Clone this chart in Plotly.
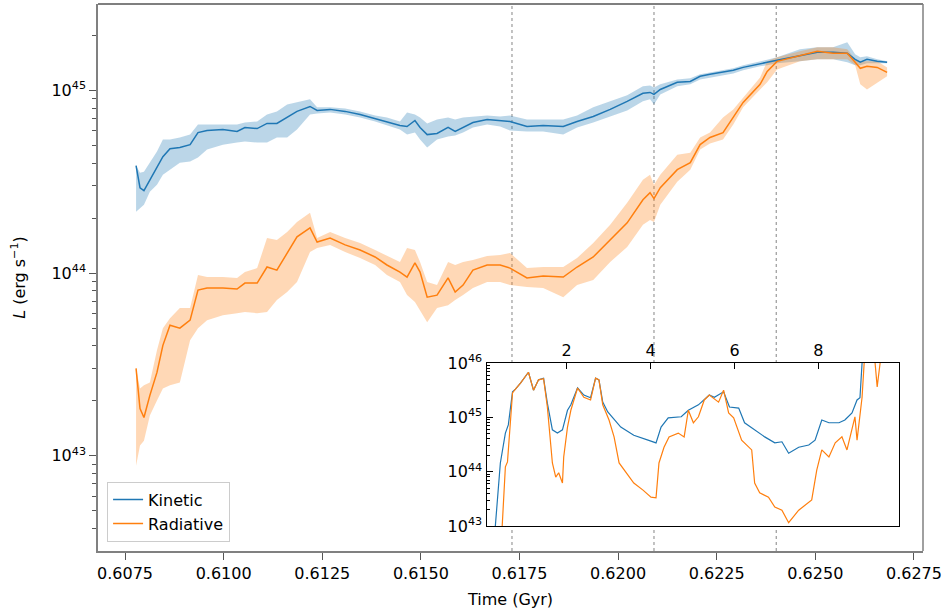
import numpy as np
import plotly.graph_objects as go

# ---------------- main panel data (time in Gyr, log10 L in erg/s) ----------------
time_gyr = [0.60778, 0.60788, 0.60798, 0.60813, 0.60831, 0.60846, 0.60864, 0.60889, 0.60915, 0.60935,
            0.60958, 0.60998, 0.61034, 0.61054, 0.61085, 0.61110, 0.61135, 0.61161, 0.61186, 0.61219,
            0.61237, 0.61270, 0.61308, 0.61346, 0.61384, 0.61414, 0.61447, 0.61465, 0.61485, 0.61498,
            0.61516, 0.61541, 0.61569, 0.61587, 0.61607, 0.61632, 0.61668, 0.61701, 0.61726, 0.61769,
            0.61810, 0.61861, 0.61896, 0.61937, 0.61980, 0.62023, 0.62063, 0.62081, 0.62091, 0.62107,
            0.62150, 0.62183, 0.62208, 0.62233, 0.62266, 0.62292, 0.62317, 0.62360, 0.62378, 0.62403,
            0.62461, 0.62505, 0.62545, 0.62581, 0.62601, 0.62614, 0.62631, 0.62657, 0.62682]

kinetic_log = [44.588, 44.467, 44.451, 44.511, 44.577, 44.637, 44.681, 44.687, 44.703, 44.769,
               44.780, 44.786, 44.775, 44.797, 44.791, 44.819, 44.819, 44.852, 44.885, 44.912,
               44.890, 44.896, 44.885, 44.868, 44.846, 44.830, 44.808, 44.802, 44.835, 44.797,
               44.758, 44.764, 44.797, 44.775, 44.797, 44.824, 44.841, 44.835, 44.830, 44.802,
               44.808, 44.802, 44.830, 44.857, 44.896, 44.940, 44.984, 44.989, 44.978, 45.005,
               45.044, 45.049, 45.077, 45.088, 45.099, 45.110, 45.126, 45.148, 45.154, 45.165,
               45.192, 45.209, 45.209, 45.203, 45.170, 45.154, 45.170, 45.159, 45.154]
kinetic_hi_log = [44.588, 44.549, 44.555, 44.604, 44.665, 44.731, 44.731, 44.742, 44.758, 44.813,
                  44.813, 44.813, 44.813, 44.824, 44.830, 44.868, 44.885, 44.923, 44.934, 44.951,
                  44.907, 44.907, 44.901, 44.885, 44.863, 44.852, 44.830, 44.879, 44.868, 44.852,
                  44.819, 44.841, 44.852, 44.841, 44.852, 44.857, 44.863, 44.857, 44.863, 44.841,
                  44.841, 44.841, 44.863, 44.907, 44.940, 44.973, 45.022, 45.027, 45.016, 45.033,
                  45.060, 45.066, 45.088, 45.099, 45.110, 45.121, 45.137, 45.159, 45.165, 45.181,
                  45.225, 45.236, 45.236, 45.264, 45.198, 45.181, 45.187, 45.170, 45.159]
kinetic_lo_log = [44.335, 44.357, 44.374, 44.445, 44.484, 44.538, 44.566, 44.604, 44.610, 44.632,
                  44.676, 44.703, 44.714, 44.720, 44.714, 44.714, 44.742, 44.742, 44.786, 44.868,
                  44.874, 44.879, 44.868, 44.852, 44.830, 44.808, 44.786, 44.758, 44.769, 44.731,
                  44.687, 44.731, 44.747, 44.753, 44.769, 44.797, 44.813, 44.802, 44.780, 44.775,
                  44.775, 44.758, 44.797, 44.824, 44.857, 44.890, 44.940, 44.951, 44.923, 44.978,
                  45.022, 45.033, 45.060, 45.071, 45.082, 45.093, 45.110, 45.132, 45.137, 45.148,
                  45.159, 45.170, 45.170, 45.154, 45.137, 45.137, 45.148, 45.148, 45.148]

radiative_log = [43.478, 43.258, 43.209, 43.330, 43.456, 43.604, 43.714, 43.698, 43.742, 43.907,
                 43.918, 43.918, 43.912, 43.945, 43.945, 44.033, 44.016, 44.110, 44.198, 44.247,
                 44.170, 44.192, 44.154, 44.126, 44.088, 44.044, 44.005, 43.978, 44.055, 44.005,
                 43.868, 43.879, 43.973, 43.896, 43.934, 44.016, 44.044, 44.044, 44.027, 43.973,
                 43.984, 43.978, 44.033, 44.088, 44.181, 44.275, 44.401, 44.440, 44.407, 44.467,
                 44.566, 44.604, 44.703, 44.742, 44.769, 44.852, 44.934, 45.033, 45.104, 45.159,
                 45.192, 45.214, 45.203, 45.203, 45.154, 45.121, 45.132, 45.126, 45.099]
radiative_hi_log = [43.478, 43.368, 43.385, 43.401, 43.577, 43.698, 43.753, 43.808, 43.808, 43.989,
                    43.978, 43.978, 43.973, 44.005, 44.027, 44.192, 44.181, 44.225, 44.280, 44.330,
                    44.192, 44.225, 44.192, 44.165, 44.126, 44.093, 44.060, 44.137, 44.126, 44.060,
                    43.951, 43.934, 44.060, 44.044, 44.060, 44.071, 44.093, 44.099, 44.110, 44.027,
                    44.033, 44.033, 44.082, 44.165, 44.264, 44.385, 44.511, 44.538, 44.484, 44.538,
                    44.648, 44.659, 44.742, 44.769, 44.852, 44.896, 44.962, 45.071, 45.159, 45.181,
                    45.214, 45.236, 45.236, 45.225, 45.170, 45.159, 45.159, 45.159, 45.126]
radiative_lo_log = [42.945, 43.055, 43.082, 43.220, 43.302, 43.368, 43.385, 43.401, 43.632, 43.698,
                    43.742, 43.769, 43.780, 43.786, 43.780, 43.786, 43.852, 43.896, 43.951, 44.115,
                    44.137, 44.154, 44.115, 44.082, 44.044, 43.989, 43.951, 43.879, 43.841, 43.797,
                    43.731, 43.808, 43.824, 43.852, 43.879, 43.918, 43.951, 43.951, 43.934, 43.923,
                    43.918, 43.868, 43.934, 43.962, 44.060, 44.143, 44.264, 44.291, 44.280, 44.374,
                    44.500, 44.566, 44.676, 44.709, 44.731, 44.813, 44.907, 45.005, 45.044, 45.115,
                    45.159, 45.170, 45.170, 45.170, 45.137, 45.033, 45.005, 45.044, 45.077]

marker_times = [0.61731, 0.62091, 0.62401]

# ---------------- inset data ----------------
inset_kin_x = [0.28, 0.42, 0.54, 0.61, 0.71, 0.78, 0.90, 1.09, 1.21, 1.33, 1.45, 1.54, 1.66, 1.78, 1.90,
               2.02, 2.10, 2.26, 2.41, 2.57, 2.69, 2.77, 2.86, 2.98, 3.29, 3.60, 3.94, 4.13, 4.25, 4.42,
               4.73, 4.90, 5.14, 5.40, 5.52, 5.74, 5.88, 6.10, 6.24, 6.48, 6.72, 6.96, 7.13, 7.29, 7.53,
               7.77, 7.92, 8.08, 8.25, 8.49, 8.63, 8.80, 8.92, 8.99, 9.04, 9.16, 9.35, 9.52]
inset_kin_log = [42.8, 44.16, 44.71, 44.86, 45.47, 45.52, 45.63, 45.83, 45.50, 45.69, 45.72, 45.26, 44.77,
                 44.71, 44.77, 45.13, 45.23, 45.54, 45.41, 45.36, 45.72, 45.69, 45.28, 45.10, 44.82, 44.67,
                 44.58, 44.53, 44.82, 44.99, 45.01, 45.13, 45.23, 45.41, 45.37, 45.47, 45.19, 45.17, 44.90,
                 44.77, 44.64, 44.53, 44.55, 44.34, 44.45, 44.49, 44.58, 44.95, 44.90, 44.90, 44.95, 45.08,
                 45.32, 45.36, 46.0, 46.3, 46.2, 46.3]
inset_rad_x = [0.45, 0.54, 0.59, 0.71, 0.78, 0.90, 1.09, 1.21, 1.33, 1.45, 1.54, 1.66, 1.74, 1.81, 1.90,
               1.93, 2.02, 2.10, 2.26, 2.41, 2.57, 2.69, 2.77, 2.86, 3.01, 3.13, 3.25, 3.41, 3.60, 3.82,
               4.01, 4.13, 4.20, 4.32, 4.44, 4.66, 4.80, 4.90, 5.02, 5.14, 5.28, 5.40, 5.62, 5.74, 5.86,
               5.98, 6.17, 6.41, 6.48, 6.60, 6.81, 6.96, 7.13, 7.29, 7.53, 7.84, 7.96, 8.08, 8.25, 8.40,
               8.56, 8.68, 8.80, 8.87, 8.92, 9.04, 9.09, 9.23, 9.35, 9.40, 9.47, 9.57]
inset_rad_log = [42.8, 44.09, 44.18, 45.45, 45.52, 45.63, 45.83, 45.50, 45.69, 45.71, 45.19, 44.16, 43.90,
                 43.98, 43.79, 44.27, 44.82, 45.13, 45.54, 45.37, 45.32, 45.72, 45.69, 45.23, 44.95, 44.64,
                 44.16, 43.98, 43.79, 43.66, 43.53, 43.52, 44.16, 44.45, 44.64, 44.71, 44.64, 45.13, 44.90,
                 45.01, 45.32, 45.41, 45.28, 45.50, 45.08, 44.99, 44.58, 44.40, 43.79, 43.61, 43.53, 43.35,
                 43.29, 43.06, 43.29, 43.48, 44.03, 44.40, 44.27, 44.53, 44.64, 44.40, 44.82, 45.01, 44.58,
                 45.37, 46.0, 46.3, 46.0, 45.56, 46.0, 46.3]
inset_marker_x = 0.62

x_ticks = [0.6075, 0.6100, 0.6125, 0.6150, 0.6175, 0.6200, 0.6225, 0.6250, 0.6275]
inset_x_ticks = [2, 4, 6, 8]

BLUE = "#1f77b4"
ORANGE = "#ff7f0e"
FONT = "DejaVu Sans"


def L(a):
    return 10 ** np.array(a)


fig = go.Figure()

# bands
fig.add_trace(go.Scatter(x=time_gyr, y=L(kinetic_lo_log), mode="lines", line=dict(width=0),
                         showlegend=False, hoverinfo="skip"))
fig.add_trace(go.Scatter(x=time_gyr, y=L(kinetic_hi_log), mode="lines", line=dict(width=0),
                         fill="tonexty", fillcolor="rgba(31,119,180,0.3)", showlegend=False, hoverinfo="skip"))
fig.add_trace(go.Scatter(x=time_gyr, y=L(radiative_lo_log), mode="lines", line=dict(width=0),
                         showlegend=False, hoverinfo="skip"))
fig.add_trace(go.Scatter(x=time_gyr, y=L(radiative_hi_log), mode="lines", line=dict(width=0),
                         fill="tonexty", fillcolor="rgba(255,127,14,0.3)", showlegend=False, hoverinfo="skip"))
# median lines
fig.add_trace(go.Scatter(x=time_gyr, y=L(kinetic_log), mode="lines", name="Kinetic",
                         line=dict(color=BLUE, width=1.5)))
fig.add_trace(go.Scatter(x=time_gyr, y=L(radiative_log), mode="lines", name="Radiative",
                         line=dict(color=ORANGE, width=1.5)))

# inset
fig.add_trace(go.Scatter(x=inset_kin_x, y=L(inset_kin_log), mode="lines", xaxis="x2", yaxis="y2",
                         line=dict(color=BLUE, width=1.2), showlegend=False))
fig.add_trace(go.Scatter(x=inset_rad_x, y=L(inset_rad_log), mode="lines", xaxis="x2", yaxis="y2",
                         line=dict(color=ORANGE, width=1.2), showlegend=False))

W, H = 947, 611
ml, mr, mt, mb = 98, 24, 4, 60
pw, ph = W - ml - mr, H - mt - mb
ix0 = (486.5 - ml) / pw
ix1 = (899 - ml) / pw
iy0 = (H - mb - 526) / ph
iy1 = (H - mb - 363) / ph

shapes = []
for t in marker_times:
    for (a, b) in [(0, iy0), (iy1, 1)]:
        shapes.append(dict(type="line", xref="x", yref="paper", x0=t, x1=t, y0=a, y1=b,
                           line=dict(color="#9a9a9a", width=1.2, dash="dot"), layer="below"))
shapes.append(dict(type="line", xref="x2", yref="y2 domain", x0=inset_marker_x, x1=inset_marker_x,
                   y0=0, y1=1, line=dict(color="#d8d8d8", width=2), layer="below"))
# top (black) and right (gray) spines
shapes.append(dict(type="line", xref="paper", yref="paper", x0=0, x1=1, y0=1, y1=1,
                   line=dict(color="black", width=1.2)))
shapes.append(dict(type="line", xref="paper", yref="paper", x0=1, x1=1, y0=0, y1=1,
                   line=dict(color="#808080", width=1.5)))

main_minor = [k * 10.0 ** n for n in range(42, 46) for k in range(2, 10)]
main_minor = [v for v in main_minor if 10 ** 42.478 < v < 10 ** 45.473]
inset_minor = [k * 10.0 ** n for n in range(43, 46) for k in range(2, 10)]

fig.update_layout(
    width=W, height=H,
    margin=dict(l=ml, r=mr, t=mt, b=mb, autoexpand=False),
    paper_bgcolor="white", plot_bgcolor="white",
    font=dict(family=FONT, size=16, color="black"),
    shapes=shapes,
    showlegend=True,
    legend=dict(x=0.011, y=0.017, xanchor="left", yanchor="bottom", traceorder="normal",
                bgcolor="rgba(255,255,255,0.8)", bordercolor="#cccccc", borderwidth=1,
                font=dict(family=FONT, size=16), tracegroupgap=0),
    xaxis=dict(domain=[0, 1], range=[0.606815, 0.62773], showgrid=False, zeroline=False,
               automargin=False,
               showline=True, linecolor="#808080", linewidth=1.5,
               ticks="outside", ticklen=7, tickwidth=1.2, tickcolor="#555555",
               tickmode="array", tickvals=x_ticks, ticktext=[f"{v:.4f}" for v in x_ticks],
               tickfont=dict(size=16),
               title=dict(text="Time (Gyr)", font=dict(size=16), standoff=12)),
    yaxis=dict(type="log", range=[42.478, 45.473], showgrid=False, zeroline=False,
               automargin=False,
               showline=True, linecolor="#808080", linewidth=1.5,
               ticks="outside", ticklen=7, tickwidth=1.2, tickcolor="#555555",
               tickmode="array", tickvals=[1e43, 1e44, 1e45],
               ticktext=["10<sup>43</sup>", "10<sup>44</sup>", "10<sup>45</sup>"],
               tickfont=dict(size=16),
               minor=dict(tickmode="array", tickvals=main_minor, ticks="outside", ticklen=4,
                          tickwidth=1, tickcolor="#555555"),
               title=dict(text="<i>L</i> (erg s<sup>−1</sup>)", font=dict(size=16), standoff=22)),
    xaxis2=dict(domain=[ix0, ix1], anchor="y2", side="top", range=[0.09, 9.92],
                automargin=False,
                showgrid=False, zeroline=False, showline=True, mirror=True,
                linecolor="black", linewidth=1.2,
                ticks="inside", ticklen=6, tickcolor="black",
                tickmode="array", tickvals=inset_x_ticks, ticktext=[str(v) for v in inset_x_ticks],
                tickfont=dict(size=16)),
    yaxis2=dict(domain=[iy0, iy1], anchor="x2", type="log", range=[43, 46],
                automargin=False,
                showgrid=False, zeroline=False, showline=True, mirror=True,
                linecolor="black", linewidth=1.2,
                ticks="inside", ticklen=6, tickcolor="black",
                tickmode="array", tickvals=[1e43, 1e44, 1e45, 1e46],
                ticktext=["10<sup>43</sup>", "10<sup>44</sup>", "10<sup>45</sup>", "10<sup>46</sup>"],
                tickfont=dict(size=16),
                minor=dict(tickmode="array", tickvals=inset_minor, ticks="inside", ticklen=3,
                           tickwidth=1, tickcolor="black")),
)

fig.write_html("out.html", config={"displayModeBar": False},
               post_script="document.body.style.margin='0';")
